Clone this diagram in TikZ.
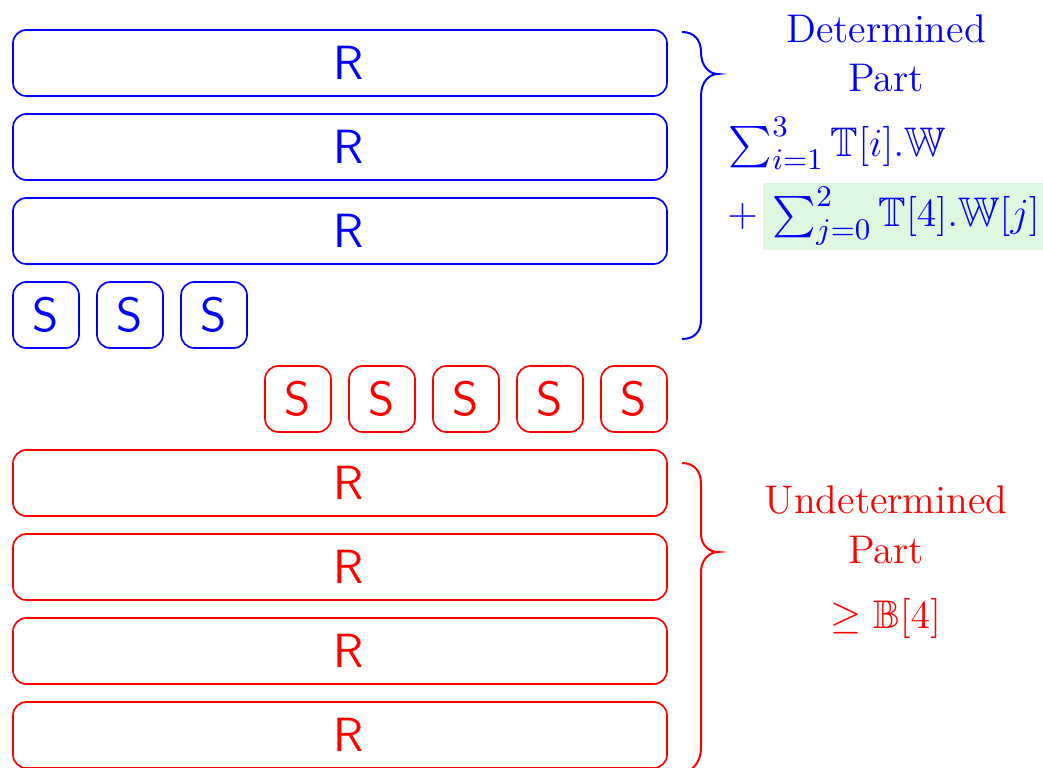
\documentclass[tikz,border=0pt]{standalone}
\usepackage{xcolor}
\usepackage{amsmath,amsfonts,amssymb}
\usetikzlibrary{positioning}
\usetikzlibrary{math}

\definecolor{hilite}{RGB}{223,247,224}

\tikzset{
  blk/.style={draw, rounded corners=4pt, line width=0.5pt, inner sep=0pt,
    minimum height=19.8pt, font=\sffamily\Large},
  rowblk/.style={blk, minimum width=196.2pt,
    execute at begin node={\hspace*{5.4pt}}},
  slotblk/.style={blk, minimum width=19.8pt},
  lbl/.style={font=\large, anchor=base},
  sumlbl/.style={blue, font=\fontsize{12.4}{15}\selectfont},
}

\begin{document}
\begin{tikzpicture}[x=0.3pt,y=-0.3pt,line width=0.5pt]

  \tikzmath{
    \pitch = 84;  % distance from one box to the next
    \xs    = 46;  % centre of the first slot
    \ys    = 63;  % centre of the first row
    \xr    = 340; % centre of a full row
    \xt    = 886; % centre of the labels
  }

  \useasboundingbox (0,0) rectangle (1043,767);

  % determined part: three rows and three slots
  \foreach \r in {0,1,2}
    \node[rowblk, blue] (dr\r) at (\xr, {\ys+\r*\pitch}) {R};
  \foreach \k in {0,1,2}
    \node[slotblk, blue] (ds\k) at ({\xs+\k*\pitch}, {\ys+3*\pitch}) {S};

  % undetermined part: five slots and four rows
  \foreach \k in {3,...,7}
    \node[slotblk, red] (us\k) at ({\xs+\k*\pitch}, {\ys+4*\pitch}) {S};
  \foreach \r in {5,...,8}
    \node[rowblk, red] (ur\r) at (\xr, {\ys+\r*\pitch}) {R};

  % braces
  \draw[blue, line width=0.6pt] (682,32)
    .. controls (694,32) and (701,40) .. (701,52)
    .. controls (701,66) and (709,74) .. (718,74)
    .. controls (709,74) and (701,82) .. (701,96)
    -- (701,320)
    .. controls (701,332) and (694,339) .. (682,339);

  \draw[red, line width=0.6pt] (682,463)
    .. controls (694,463) and (701,471) .. (701,484)
    -- (701,534)
    .. controls (701,545) and (709,552) .. (718,552)
    .. controls (709,552) and (701,560) .. (701,572)
    -- (701,748)
    .. controls (701,760) and (694,772) .. (682,772);

  % labels of the determined part
  \node[lbl, blue] (det) at (\xt,43) {Determined};
  \node[lbl, blue] (detpart) at (\xt,92) {Part};
  \node[sumlbl, anchor=base west, inner sep=0pt] (sum1)
    at (728,157) {$\sum_{i=1}^{3}\mathbb{T}[i].\mathbb{W}$};
  \node[sumlbl, anchor=base west, fill=hilite, inner xsep=3pt, inner ysep=1.5pt]
    (sum2) at (762,227) {$\sum_{j=0}^{2}\mathbb{T}[4].\mathbb{W}[j]$};
  \node[sumlbl, anchor=base east, inner sep=1pt] (plus)
    at (sum2.base west) {$+$};

  % labels of the undetermined part
  \node[lbl, red] (undet) at (\xt,513) {Undetermined};
  \node[lbl, red] (undetpart) at (\xt,563) {Part};
  \node[lbl, red] (bound) at (\xt,628) {$\geq\mathbb{B}[4]$};

\end{tikzpicture}
\end{document}
